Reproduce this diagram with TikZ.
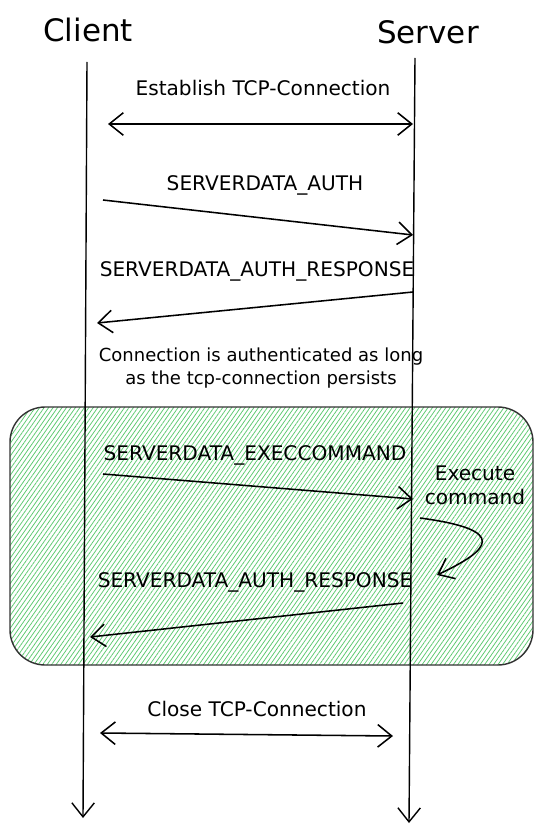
\documentclass[tikz,border=0pt]{standalone}
\usepackage{fontspec}
\setmainfont{DejaVu Sans}
\usepackage{tikz}
\usepackage{xcolor}
\usetikzlibrary{arrows.meta,patterns.meta}

\definecolor{hatchgreen}{RGB}{64,192,87}

\begin{document}
\begin{tikzpicture}[x=0.025cm,y=-0.025cm,
  >={Straight Barb[length=10pt,width=16pt]},
  msg/.style={font=\fontsize{14.3}{17}\selectfont},
  actor/.style={font=\fontsize{22}{26}\selectfont}]
\useasboundingbox (0,0) rectangle (543,834);

% hatched block
\draw[rounded corners=25, line width=1pt, draw=black!80, fill=hatchgreen!12,
  pattern={Lines[angle=55, distance=2.6pt, line width=0.55pt]}, pattern color=hatchgreen!85]
  (10,407) rectangle (533,665);

\node[actor] (client) at (88,30) {Client};
\node[actor] (server) at (428,32) {Server};

% lifelines
\coordinate (c0) at (87,62);
\coordinate (c1) at (83,818);
\coordinate (s0) at (415,58);
\coordinate (s1) at (409,823);
\draw[->, line width=1pt] (c0) -- (c1);
\draw[->, line width=1pt] (s0) -- (s1);

\node[msg] (est) at (263,88) {Establish TCP-Connection};
\coordinate (e1) at (108,124);
\coordinate (e2) at (413,124);
\draw[<->, line width=1.1pt] (e1) -- (e2);

\node[msg] (auth) at (265,185) {SERVERDATA\_AUTH};
\coordinate (a1) at (103,200);
\coordinate (a2) at (413,235);
\draw[->, line width=1.1pt] (a1) -- (a2);

\node[msg] (resp) at (257,271) {SERVERDATA\_AUTH\_RESPONSE};
\coordinate (r1) at (413,292);
\coordinate (r2) at (97,323);
\draw[->, line width=1.1pt] (r1) -- (r2);

\node[msg, font=\fontsize{12.8}{16.5}\selectfont, align=center] (note) at (261,368) {Connection is authenticated as long\\as the tcp-connection persists};

\node[msg] (exec) at (255,455) {SERVERDATA\_EXECCOMMAND};
\coordinate (x1) at (103,474);
\coordinate (x2) at (413,499);
\draw[->, line width=1.1pt] (x1) -- (x2);

\node[msg, align=center] (run) at (475,485) {Execute\\command};
\coordinate (k1) at (420,518);
\coordinate (k2) at (437,575);
\draw[->, line width=1.1pt] (k1) .. controls (510,530) and (490,550) .. (k2);

\node[msg] (resp2) at (255,582) {SERVERDATA\_AUTH\_RESPONSE};
\coordinate (q1) at (403,603);
\coordinate (q2) at (90,637);
\draw[->, line width=1.1pt] (q1) -- (q2);

\node[msg] (close) at (257,709) {Close TCP-Connection};
\coordinate (d1) at (100,733);
\coordinate (d2) at (393,736);
\draw[<->, line width=1.1pt] (d1) -- (d2);
\end{tikzpicture}
\end{document}
